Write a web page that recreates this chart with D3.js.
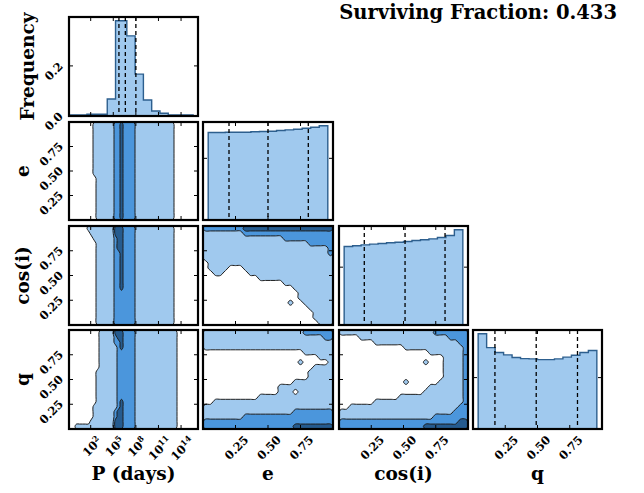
<!DOCTYPE html>
<html>
<head>
<meta charset="utf-8">
<script src="https://cdn.jsdelivr.net/npm/d3@7"></script>
<style>
    body {
        margin: 0px;
        background-color: white;
    }

    svg {
        display: block;
    }

    text {
        font-family: "DejaVu Serif", serif;
        font-weight: bold;
        fill: black;
    }
</style>
</head>
<body>
<svg id="chart" width="644" height="493"></svg>
<script>
    // ---- data ----
    var paramLabels = ["P (days)", "e", "cos(i)", "q"]
    var survivingFraction = 0.433

    // axis ranges
    var logPDomain = [-0.88, 16.25]
    var unitDomain = [0, 1]
    var logPTicks = [2, 5, 8, 11, 14]
    var unitTicks = [0.25, 0.5, 0.75]
    var freqTicksP = [0, 0.2]
    var freqTicksUnit = [0.05]

    // marginal of log10 P (non uniform bins)
    var pBinEdges = [-0.75, 1.5, 4.2, 5.3, 6.8, 7.9, 9.0, 10.1, 11.2, 12.3, 15.6]
    var pFreq = [0.004, 0.007, 0.068, 0.38, 0.32, 0.167, 0.064, 0.02, 0.011, 0.004]
    var pQuantiles = [5.75, 6.6, 8.0]

    // marginals of e, cos(i), q : 14 bins over unitHistRange
    var unitHistRange = [0.04, 0.96]
    var eFreq = [0.0710, 0.0710, 0.0711, 0.0712, 0.0712, 0.0715, 0.0718, 0.0720, 0.0726, 0.0731, 0.0736, 0.0744, 0.0752, 0.0764]
    var cosFreq = [0.0679, 0.0685, 0.0693, 0.0699, 0.0705, 0.0711, 0.0716, 0.0722, 0.0731, 0.0737, 0.0745, 0.0757, 0.0774, 0.0823]
    var qFreq = [0.0926, 0.0792, 0.0744, 0.0721, 0.0695, 0.0685, 0.0682, 0.0675, 0.0675, 0.0682, 0.0699, 0.0718, 0.0744, 0.0763]
    var eQuantiles = [0.2, 0.5, 0.81]
    var cosQuantiles = [0.196, 0.512, 0.822]
    var qQuantiles = [0.17, 0.49, 0.81]

    // 2d density, binned into contour levels (0 = lowest, 3 = highest), first row = top
    var gridPe = [
        "0000000011111112232222111111111111100000000",
        "0000000011111112232222111111111111100000000",
        "0000000011111112232222111111111111100000000",
        "0000000011111112232222111111111111100000000",
        "0000000011111112232222111111111111100000000",
        "0000000011111112232222111111111111100000000",
        "0000000011111112232222111111111111100000000",
        "0000000011111112232222111111111111100000000",
        "0000000011111112232222111111111111100000000",
        "0000000011111112232222111111111111100000000",
        "0000000011111112232222111111111111100000000",
        "0000000001111112232222111111111111100000000",
        "0000000001111112232222111111111111100000000",
        "0000000001111112232222111111111111100000000",
        "0000000001111112232222111111111111100000000",
        "0000000001111112232222111111111111100000000",
        "0000000001111112232222111111111111100000000",
        "0000000001111112232222111111111111100000000",
        "0000000001111112232222111111111111100000000",
        "0000000001111112232222111111111111100000000"
    ]
    var gridPcos = [
        "0000001111111113332222111111111111100000000",
        "0000000111111113332222111111111111100000000",
        "0000000011111112332222111111111111100000000",
        "0000000001111112332222111111111111100000000",
        "0000000001111112332222111111111111100000000",
        "0000000001111112232222111111111111100000000",
        "0000000001111112232222111111111111100000000",
        "0000000001111112232222111111111111100000000",
        "0000000001111112232222111111111111100000000",
        "0000000001111112232222111111111111100000000",
        "0000000001111112232222111111111111100000000",
        "0000000001111112232222111111111111100000000",
        "0000000001111112232222111111111111100000000",
        "0000000001111112222222111111111111100000000",
        "0000000001111112222222111111111111100000000",
        "0000000001111112222222111111111111100000000",
        "0000000001111112222222111111111111100000000",
        "0000000001111112222222111111111111100000000",
        "0000000001111112222222111111111111100000000",
        "0000000001111112222222111111111111100000000"
    ]
    var gridPq = [
        "0000000000111113332222111111111111110000000",
        "0000000000111112332222111111111111110000000",
        "0000000000111112232222111111111111110000000",
        "0000000000111111232222111111111111110000000",
        "0000000000111111222222111111111111110000000",
        "0000000000111111222222111111111111110000000",
        "0000000000111111222222111111111111110000000",
        "0000000000111111222222111111111111110000000",
        "0000000001111111222222111111111111110000000",
        "0000000001111111222222111111111111110000000",
        "0000000001111111222222111111111111110000000",
        "0000000001111111222222111111111111110000000",
        "0000000001111111222222111111111111110000000",
        "0000000001111111222222111111111111110000000",
        "0000000001111111232222111111111111110000000",
        "0000000011111111232222111111111111110000000",
        "0000000011111112332222111111111111110000000",
        "0000000011111112332222111111111111110000000",
        "0000000111111113332222111111111111110000000",
        "0011111111111113332222111111111111110000000"
    ]
    var gridEcos = [
        "22222222333333333333333333",
        "11111111222222222222222222",
        "11111111111111112222222222",
        "11111111111111111111122222",
        "11111111111111111111111112",
        "11111111111111111111111112",
        "11111111111111111111111111",
        "01111111111111111111111111",
        "01111000111111111111111111",
        "00110000011111111111111111",
        "00000000000111111111111111",
        "00000000000000001111111111",
        "00000000000000000011111111",
        "00000000000000000001111111",
        "00000000000000000001111111",
        "00000000000000000100111111",
        "00000000000000000000011111",
        "00000000000000000000001111",
        "00000000000000000000001111",
        "00000000000000000000000111"
    ]
    var gridEq = [
        "11111111111111111111222222",
        "11111111111111111111111122",
        "11111111111111111111111111",
        "11111111111111111111111111",
        "00000000000000000000111111",
        "00000000000000000000000111",
        "00000000000000000001000001",
        "00000000000000000000001111",
        "00000000000000000000011111",
        "00000000000000000000011111",
        "00000000000000000011111111",
        "00000000000000011111111111",
        "00000000000000011101111111",
        "00000000000111111111111111",
        "00111111111111111111111111",
        "11111111111111111111111111",
        "11111111111111111122222222",
        "11111111222222222222222222",
        "22222222222222222222222222",
        "22222222222222222233333333"
    ]
    var gridCosq = [
        "11111111111111111112222222",
        "00001111111111111111112222",
        "00000001111111111111111122",
        "00000000000001111111111112",
        "00000000000000000011111112",
        "00000000000000000000011112",
        "00000000000000000100011112",
        "00000000000000000000011112",
        "00000000000000000000011112",
        "00000000000000000000011112",
        "00000000000001000000111112",
        "00000000000000000011111112",
        "00000000000000000111111112",
        "00000000000011111111111112",
        "00000001111111111111111112",
        "00111111111111111111111122",
        "11111111111111111111111222",
        "11111111111111111112222222",
        "22222222222222222222222233",
        "22222222222222222333333333"
    ]

    // ---- layout ----
    var colX = [[69, 198], [203, 333], [339, 468], [473, 602]]
    var rowY = [[17, 116], [122, 220], [226, 325], [330, 429]]

    var lightBlue = "#a0c9ee"
    var levelColors = [lightBlue, "#4b96dc", "#255b8f"]
    var histEdge = "#2d5f8e"

    var svg = d3.select("#chart")
    var defs = svg.append("defs")

    var xScales = colX.map(function (r, i) {
        return d3.scaleLinear().domain(i == 0 ? logPDomain : unitDomain).range(r)
    })
    var yUnit = rowY.map(function (r) {
        return d3.scaleLinear().domain(unitDomain).range([r[1], r[0]])
    })

    var grids = {
        "1,0": gridPe, "2,0": gridPcos, "3,0": gridPq,
        "2,1": gridEcos, "3,1": gridEq, "3,2": gridCosq
    }
    var hists = [
        { edges: pBinEdges, freq: pFreq, quant: pQuantiles, ticks: freqTicksP },
        { freq: eFreq, quant: eQuantiles, ticks: freqTicksUnit },
        { freq: cosFreq, quant: cosQuantiles, ticks: freqTicksUnit },
        { freq: qFreq, quant: qQuantiles, ticks: freqTicksUnit }
    ]

    for (var row = 0; row < 4; row++) {
        for (var col = 0; col <= row; col++) {
            drawPanel(row, col)
        }
    }

    function drawPanel(row, col) {
        var xs = xScales[col]
        var x0 = colX[col][0], x1 = colX[col][1]
        var y0 = rowY[row][0], y1 = rowY[row][1]
        var g = svg.append("g").attr("class", "panel")

        var clipId = "clip" + row + col
        defs.append("clipPath").attr("id", clipId)
            .append("rect").attr("x", x0).attr("y", y0).attr("width", x1 - x0).attr("height", y1 - y0)
        var inner = g.append("g").attr("clip-path", "url(#" + clipId + ")")

        var ys
        if (row == col) {
            ys = drawHist(inner, xs, hists[col], y0, y1, col)
        } else {
            ys = yUnit[row]
            drawDensity(inner, grids[row + "," + col], xs, ys)
        }

        // ticks, pointing inward on all four sides
        var xt = col == 0 ? logPTicks : unitTicks
        var yt = row == col ? hists[col].ticks : unitTicks
        var tk = g.append("g").attr("stroke", "black").attr("stroke-width", 1)
        xt.forEach(function (v) {
            var x = xs(v)
            tk.append("line").attr("x1", x).attr("x2", x).attr("y1", y1).attr("y2", y1 - 4)
            tk.append("line").attr("x1", x).attr("x2", x).attr("y1", y0).attr("y2", y0 + 4)
        })
        yt.forEach(function (v) {
            var y = ys(v)
            tk.append("line").attr("x1", x0).attr("x2", x0 + 4).attr("y1", y).attr("y2", y)
            tk.append("line").attr("x1", x1).attr("x2", x1 - 4).attr("y1", y).attr("y2", y)
        })

        g.append("rect")
            .attr("x", x0).attr("y", y0)
            .attr("width", x1 - x0).attr("height", y1 - y0)
            .attr("fill", "none").attr("stroke", "black").attr("stroke-width", 2.2)

        // tick labels
        if (row == 3) {
            xt.forEach(function (v) {
                var t = svg.append("text").attr("font-size", 11.5)
                if (col == 0) {
                    t.append("tspan").text("10")
                    t.append("tspan").attr("dy", -4.5).attr("font-size", 8).text(v)
                } else {
                    t.text(d3.format(".2f")(v))
                }
                placeRotated(t, xs(v) + 1, y1 + 6, "below")
            })
        }
        if (col == 0) {
            yt.forEach(function (v) {
                var t = svg.append("text").attr("font-size", 11.5)
                    .text(row == 0 ? d3.format(".1f")(v) : d3.format(".2f")(v))
                placeRotated(t, x0 - 5, ys(v) - 5, "left")
            })
        }
    }

    // rotate a label by 45 degrees and put its box below (or left of) a point
    function placeRotated(t, px, py, side) {
        var b = t.node().getBBox()
        var cx = b.x + b.width / 2, cy = b.y + b.height / 2
        var ext = (b.width + b.height) * Math.SQRT1_2 * 0.86
        var tx, ty
        if (side == "below") {
            tx = px
            ty = py + ext / 2
        } else {
            tx = px - ext / 2
            ty = py + ext / 2
        }
        t.attr("transform", "translate(" + tx + "," + ty + ") rotate(-45) translate(" + (-cx) + "," + (-cy) + ")")
    }

    function drawHist(g, xs, h, y0, y1, col) {
        var edges = h.edges
        if (!edges) {
            var n = h.freq.length
            edges = d3.range(n + 1).map(function (i) {
                return unitHistRange[0] + i * (unitHistRange[1] - unitHistRange[0]) / n
            })
        }
        var ys = d3.scaleLinear().domain([0, d3.max(h.freq) * 1.04]).range([y1, y0])

        var d = "M" + xs(edges[0]) + "," + ys(0)
        h.freq.forEach(function (f, i) {
            d += "V" + ys(f) + "H" + xs(edges[i + 1])
        })
        d += "V" + ys(0)

        g.append("path").attr("d", d + "Z").attr("fill", lightBlue).attr("stroke", "none")
        g.append("path").attr("d", d).attr("fill", "none")
            .attr("stroke", histEdge).attr("stroke-width", 1.4)

        g.selectAll(".quant").data(h.quant).join("line")
            .attr("class", "quant")
            .attr("x1", function (v) { return xs(v) })
            .attr("x2", function (v) { return xs(v) })
            .attr("y1", y0).attr("y2", y1)
            .attr("stroke", "black").attr("stroke-width", 1.3)
            .attr("stroke-dasharray", "4,3")
        return ys
    }

    function drawDensity(g, grid, xs, ys) {
        var m = grid.length, n = grid[0].length
        var values = []
        grid.forEach(function (r) {
            for (var k = 0; k < r.length; k++) values.push(+r[k])
        })
        var contours = d3.contours().size([n, m]).thresholds([0.5, 1.5, 2.5])(values)

        // grid units -> data units -> pixels
        var xd = xs.domain(), yd = ys.domain()
        var gx = function (v) { return xs(xd[0] + v / n * (xd[1] - xd[0])) }
        var gy = function (v) { return ys(yd[1] - v / m * (yd[1] - yd[0])) }
        var line = d3.line()
            .x(function (p) { return gx(p[0]) })
            .y(function (p) { return gy(p[1]) })
            .curve(d3.curveCatmullRomClosed.alpha(0.5))

        g.selectAll("path").data(contours).join("path")
            .attr("d", function (c) {
                var s = ""
                c.coordinates.forEach(function (poly) {
                    poly.forEach(function (ring) {
                        s += line(ring.slice(0, -1))
                    })
                })
                return s
            })
            .attr("fill-rule", "evenodd")
            .attr("fill", function (c, i) { return levelColors[i] })
            .attr("stroke", "#1e1e1e")
            .attr("stroke-width", 1)
    }

    // axis names
    paramLabels.forEach(function (name, i) {
        svg.append("text")
            .attr("x", (colX[i][0] + colX[i][1]) / 2)
            .attr("y", 480)
            .attr("text-anchor", "middle")
            .attr("font-size", 18.5)
            .text(name)
    })
    var rowNames = ["Frequency"].concat(paramLabels.slice(1))
    rowNames.forEach(function (name, i) {
        var cy = (rowY[i][0] + rowY[i][1]) / 2
        var bx = i == 0 ? 33.5 : 29
        svg.append("text")
            .attr("transform", "translate(" + bx + "," + cy + ") rotate(-90)")
            .attr("text-anchor", "middle")
            .attr("font-size", 18.5)
            .text(name)
    })

    var title = svg.append("text")
        .attr("x", 617).attr("y", 19)
        .attr("text-anchor", "end")
        .attr("font-size", 18)
        .text("Surviving Fraction: " + survivingFraction)
    var tw = title.node().getComputedTextLength()
    title.attr("font-size", 18 * 278 / tw)
</script>
</body>
</html>
